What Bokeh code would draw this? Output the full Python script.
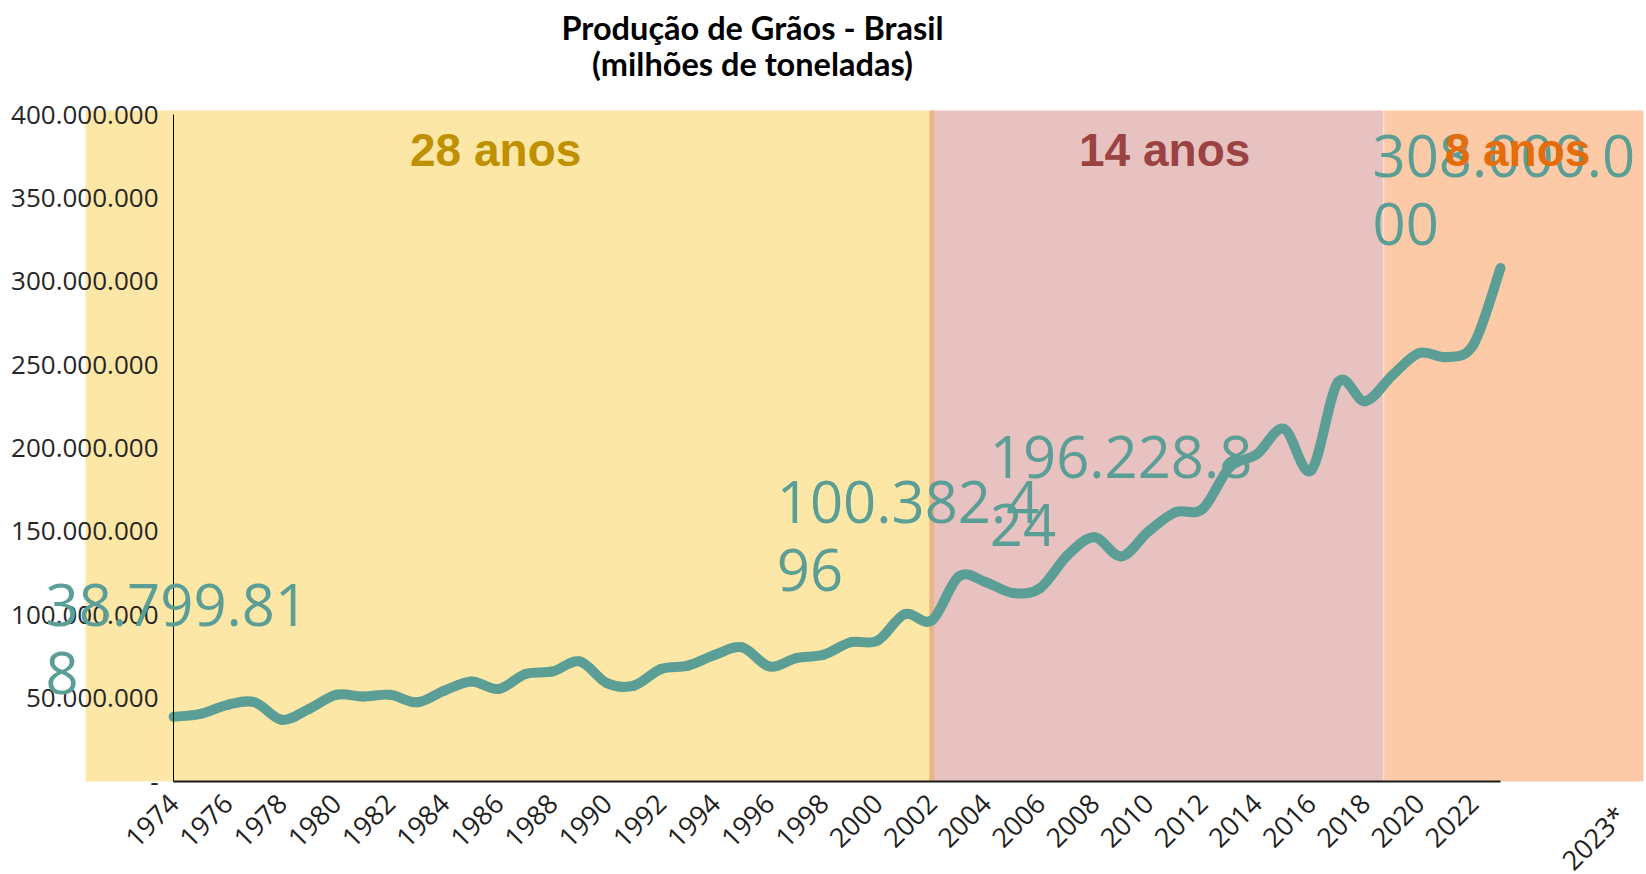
import math
from bokeh.plotting import figure
from bokeh.models import Range1d, LinearAxis, FixedTicker, Label
from bokeh.embed import file_html
from bokeh.resources import INLINE

# ---------------- data ----------------
title_lines = ["Produção de Grãos - Brasil", "(milhões de toneladas)"]

years = list(range(1974, 2024))
production = [
    38799818, 40600000, 46000000, 47500000, 37000000,   # 1974-1978
    43500000, 52000000, 51000000, 52000000, 47500000,   # 1979-1983
    54500000, 60000000, 55500000, 64500000, 66000000,   # 1984-1988
    72000000, 59000000, 57500000, 67500000, 69500000,   # 1989-1993
    76000000, 80500000, 69000000, 74000000, 76000000,   # 1994-1998
    83500000, 84500000, 100382496, 96600000, 123000000, # 1999-2003
    119500000, 113000000, 116000000, 135500000, 146500000,  # 2004-2008
    135000000, 150000000, 161500000, 163500000, 188500000,  # 2009-2013
    196228824, 211500000, 186500000, 239500000, 228000000,  # 2014-2018
    243500000, 257000000, 254500000, 262000000, 308000000,  # 2019-2023
]

label_years = [1974, 2001, 2014, 2023]
label_values = [38799818, 100382496, 196228824, 308000000]

y_ticks = [0, 50000000, 100000000, 150000000, 200000000,
           250000000, 300000000, 350000000, 400000000]
x_ticks = list(range(1974, 2023, 2))
last_tick_label = "2023*"

band_years = [28, 14, 8]
band_edges = [1970.75, 2002.0, 2018.68, 2028.28]
band_top = 402400000

# ---------------- layout / styles ----------------
view_x = (1967.61, 2028.39)
view_y = (-55770000, 468370000)
band_colors = ["#FDE7A7", "#E7C2C1", "#FDCAA7"]
band_text_colors = ["#BF9000", "#9B4343", "#E46C0A"]
band_text_dx = [-13, 7, 4]
line_color = "#5B9E96"
tick_font_size = "27px"

p = figure(width=1646, height=874,
           x_range=Range1d(*view_x), y_range=Range1d(*view_y),
           x_axis_location=None, y_axis_location=None,
           toolbar_location=None, output_backend="svg",
           min_border=0, min_border_left=0, min_border_right=0,
           min_border_top=0, min_border_bottom=0)
p.outline_line_color = None
p.grid.visible = False
p.background_fill_color = "white"
p.border_fill_color = "white"

# background bands
p.quad(left=band_edges[:-1], right=band_edges[1:], bottom=0, top=band_top,
       fill_color=band_colors, line_color=None)
p.segment(x0=[band_edges[1]], y0=[0], x1=[band_edges[1]], y1=[band_top],
          line_color="#EBB487", line_width=5)
p.segment(x0=[band_edges[2]], y0=[0], x1=[band_edges[2]], y1=[band_top],
          line_color="#FBE2D8", line_width=1.5)

# smoothed line via bezier segments (Catmull-Rom control points)
n = len(years)


def pt(i):
    i = min(max(i, 0), n - 1)
    return years[i], production[i]


bx0, by0, bx1, by1, cx0, cy0, cx1, cy1 = ([] for _ in range(8))
for i in range(n - 1):
    xa, ya = pt(i)
    xb, yb = pt(i + 1)
    xp, yp = pt(i - 1)
    xn, yn = pt(i + 2)
    bx0.append(xa); by0.append(ya); bx1.append(xb); by1.append(yb)
    cx0.append(xa + (xb - xp) / 6.0); cy0.append(ya + (yb - yp) / 6.0)
    cx1.append(xb - (xn - xa) / 6.0); cy1.append(yb - (yn - ya) / 6.0)

p.bezier(x0=bx0, y0=by0, x1=bx1, y1=by1, cx0=cx0, cy0=cy0, cx1=cx1, cy1=cy1,
         line_color=line_color, line_width=10, line_cap="round")


def fmt(v):
    return "-" if v == 0 else f"{v:,}".replace(",", ".")


# y axis at the first year
yaxis = LinearAxis(fixed_location=years[0],
                   ticker=FixedTicker(ticks=y_ticks),
                   bounds=(0, y_ticks[-1]),
                   major_label_overrides={t: fmt(t) for t in y_ticks},
                   major_tick_out=0, major_tick_in=0,
                   minor_tick_out=0, minor_tick_in=0,
                   major_label_standoff=15,
                   axis_line_color="#000000", axis_line_width=1,
                   major_label_text_font="Open Sans",
                   major_label_text_font_size="26px",
                   major_label_text_color="#262626")
p.add_layout(yaxis, "left")

# x axis at zero: year labels
xaxis = LinearAxis(fixed_location=0,
                   ticker=FixedTicker(ticks=x_ticks),
                   major_label_overrides={t: str(t) for t in x_ticks},
                   major_label_orientation=math.pi / 4,
                   major_tick_out=0, major_tick_in=0,
                   minor_tick_out=0, minor_tick_in=0,
                   major_label_standoff=17,
                   axis_line_color=None,
                   major_label_text_font="Open Sans",
                   major_label_text_font_size=tick_font_size,
                   major_label_text_color="#1f1f1f")
p.add_layout(xaxis, "below")

# projected-year label, set slightly lower at the right edge
last_tick_pos = view_x[1] - 0.01
xlast = LinearAxis(fixed_location=-7200000,
                   ticker=FixedTicker(ticks=[last_tick_pos]),
                   major_label_overrides={last_tick_pos: last_tick_label},
                   major_label_orientation=math.pi / 4,
                   major_tick_out=0, major_tick_in=0,
                   minor_tick_out=0, minor_tick_in=0,
                   major_label_standoff=17,
                   axis_line_color=None,
                   major_label_text_font="Open Sans",
                   major_label_text_font_size=tick_font_size,
                   major_label_text_color="#1f1f1f")
p.add_layout(xlast, "below")

# axis line spanning the series
xline = LinearAxis(fixed_location=0,
                   ticker=FixedTicker(ticks=[]),
                   bounds=(years[0], years[-1]),
                   major_tick_out=0, major_tick_in=0,
                   minor_tick_out=0, minor_tick_in=0,
                   major_label_text_color=None,
                   axis_line_color="#1a1a1a", axis_line_width=2)
p.add_layout(xline, "below")

# data labels
label_offsets = {1974: (-128, 6), 2001: (-128, 6), 2014: (-267, -109), 2023: (-128, 6)}
for yr, v in zip(label_years, label_values):
    s = fmt(v)
    txt = s[:9] + "\n" + s[9:]
    dx, dy = label_offsets[yr]
    p.add_layout(Label(x=yr, y=v, text=txt, x_offset=dx, y_offset=dy,
                       text_align="left", text_baseline="bottom",
                       text_font="Open Sans", text_font_size="58px",
                       text_line_height=0.86, text_color=line_color))

# band labels (drawn above the data labels)
band_centers = [(a + b) / 2 for a, b in zip(band_edges[:-1], band_edges[1:])]
for xc, nyrs, col, dx in zip(band_centers, band_years, band_text_colors, band_text_dx):
    p.add_layout(Label(x=xc, y=band_top, text=f"{nyrs} anos",
                       x_offset=dx, y_offset=-39,
                       text_align="center", text_baseline="alphabetic",
                       text_font="Liberation Sans", text_font_style="bold",
                       text_font_size="46px", text_color=col))

# title
title_baselines = [847.4, 811]
for line, yb in zip(title_lines, title_baselines):
    p.add_layout(Label(x=752, y=yb, x_units="screen", y_units="screen",
                       text=line, text_align="center", text_baseline="alphabetic",
                       text_font="Lato", text_font_style="bold",
                       text_font_size="32.5px", text_color="#000000"))

open("out.html", "w").write(file_html(p, INLINE))
